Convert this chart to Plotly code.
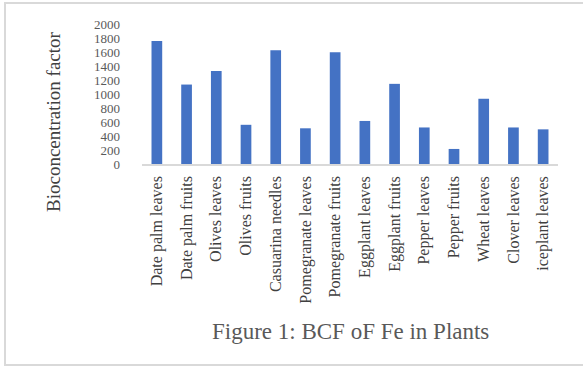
import plotly.graph_objects as go

# Bioconcentration factor of iron (Fe) per plant part
plants = [
    "Date palm leaves", "Date palm fruits", "Olives leaves", "Olives fruits",
    "Casuarina needles", "Pomegranate leaves", "Pomegranate fruits",
    "Eggplant leaves", "Eggplant fruits", "Pepper leaves", "Pepper fruits",
    "Wheat leaves", "Clover leaves", "iceplant leaves",
]
bcf_fe = [1757, 1135, 1330, 560, 1625, 510, 1595, 615, 1145, 522, 215, 932, 522, 495]
y_ticks = [0, 200, 400, 600, 800, 1000, 1200, 1400, 1600, 1800, 2000]

W, H = 583, 367
L, R, T, B = 142, 25, 24, 203
pw, ph = W - L - R, H - T - B


def px(x):
    return (x - L) / pw


def py(y):
    return (H - B - y) / ph


SERIF = "Liberation Serif, Times New Roman, serif"

fig = go.Figure(
    go.Bar(
        x=plants,
        y=bcf_fe,
        marker=dict(color="#4472C4", line=dict(width=0)),
        width=0.36,
    )
)

fig.update_layout(
    width=W,
    height=H,
    margin=dict(l=L, r=R, t=T, b=B),
    paper_bgcolor="white",
    plot_bgcolor="white",
    showlegend=False,
    font=dict(family=SERIF),
)

fig.update_xaxes(
    tickangle=-90,
    tickfont=dict(family=SERIF, size=16, color="#404040"),
    showline=True,
    linecolor="#D9D9D9",
    linewidth=1.5,
    showgrid=False,
    ticks="",
    ticklabelstandoff=4,
)

fig.update_yaxes(
    range=[0, 2000],
    tickvals=y_ticks,
    ticktext=[str(v) for v in y_ticks],
    tickfont=dict(family=SERIF, size=13, color="#595959"),
    showgrid=False,
    showline=False,
    zeroline=False,
    ticks="",
    ticklabelstandoff=21,
)

fig.add_annotation(
    text="Bioconcentration factor",
    xref="paper", yref="paper",
    x=px(53), y=py(122),
    textangle=-90,
    showarrow=False,
    font=dict(family=SERIF, size=19, color="#404040"),
    xanchor="center", yanchor="middle",
)

fig.add_annotation(
    text="Figure 1: BCF oF Fe in Plants",
    xref="paper", yref="paper",
    x=px(350), y=py(331),
    showarrow=False,
    font=dict(family=SERIF, size=23, color="#595959"),
    xanchor="center", yanchor="middle",
)

# light frame around the figure
fig.add_shape(
    type="rect",
    xref="paper", yref="paper",
    x0=px(5), x1=px(592), y0=py(365), y1=py(3),
    line=dict(color="#D9D9D9", width=2),
    fillcolor="rgba(0,0,0,0)",
    layer="below",
)

fig.write_html("out.html")
